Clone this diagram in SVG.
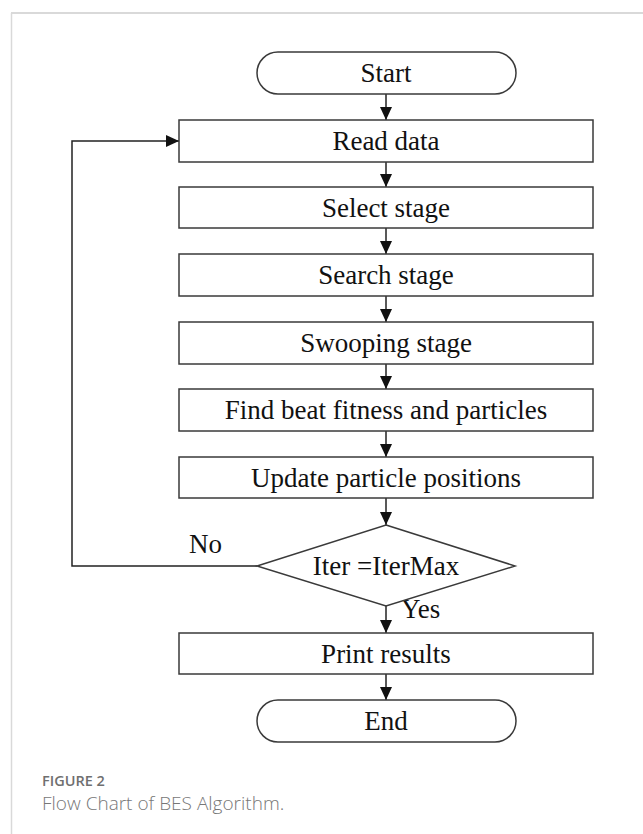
<svg xmlns="http://www.w3.org/2000/svg" width="643" height="834" viewBox="0 0 643 834">
<style>
.box{fill:#fff;stroke:#3a3a3a;stroke-width:1.5}
.lbl{font-family:"Liberation Serif","Times New Roman",serif;font-size:27px;fill:#111;text-anchor:middle}
.side{font-family:"Liberation Serif","Times New Roman",serif;font-size:27px;fill:#111}
.con{fill:none;stroke:#222;stroke-width:1.5}
.frame{stroke:#d9d9d9;fill:none}
.cap1{font-family:"Open Sans","Noto Sans",sans-serif;font-size:14.5px;font-weight:600;fill:#6f6f6f}
.cap2{font-family:"Open Sans","Noto Sans",sans-serif;font-size:19px;font-weight:300;fill:#777}
</style>
<defs>
<marker id="ah" markerUnits="userSpaceOnUse" markerWidth="14" markerHeight="14" viewBox="0 0 14 14" refX="13" refY="7" orient="auto">
<path d="M0,1 L13,7 L0,13 Z" fill="#111"/>
</marker>
</defs>
<rect width="643" height="834" fill="#fff"/>
<line class="frame" x1="11" y1="13" x2="643" y2="13" stroke-width="2"/>
<line class="frame" x1="11.5" y1="13" x2="11.5" y2="834" stroke-width="1.5"/>

<g id="connectors">
<line class="con" x1="386" y1="94" x2="386" y2="120" marker-end="url(#ah)"/>
<line class="con" x1="386" y1="162" x2="386" y2="187" marker-end="url(#ah)"/>
<line class="con" x1="386" y1="228" x2="386" y2="254" marker-end="url(#ah)"/>
<line class="con" x1="386" y1="296" x2="386" y2="322" marker-end="url(#ah)"/>
<line class="con" x1="386" y1="364" x2="386" y2="389" marker-end="url(#ah)"/>
<line class="con" x1="386" y1="431" x2="386" y2="457" marker-end="url(#ah)"/>
<line class="con" x1="386" y1="498" x2="386" y2="525" marker-end="url(#ah)"/>
<line class="con" x1="386" y1="606" x2="386" y2="633" marker-end="url(#ah)"/>
<line class="con" x1="386" y1="674" x2="386" y2="700" marker-end="url(#ah)"/>
<polyline class="con" points="257,566 72,566 72,141 179,141" marker-end="url(#ah)"/>
<text class="side" x="189" y="553">No</text>
<text class="side" x="401" y="618">Yes</text>
</g>

<g id="start">
<rect class="box" x="257" y="52" width="259" height="42" rx="21"/>
<text class="lbl" x="386" y="82">Start</text>
</g>
<g id="read">
<rect class="box" x="179" y="120" width="414" height="42"/>
<text class="lbl" x="386" y="150">Read data</text>
</g>
<g id="select">
<rect class="box" x="179" y="187" width="414" height="41"/>
<text class="lbl" x="386" y="216.5">Select stage</text>
</g>
<g id="search">
<rect class="box" x="179" y="254" width="414" height="42"/>
<text class="lbl" x="386" y="284">Search stage</text>
</g>
<g id="swooping">
<rect class="box" x="179" y="322" width="414" height="42"/>
<text class="lbl" x="386" y="352">Swooping stage</text>
</g>
<g id="find">
<rect class="box" x="179" y="389" width="414" height="42"/>
<text class="lbl" x="386" y="419">Find beat fitness and particles</text>
</g>
<g id="update">
<rect class="box" x="179" y="457" width="414" height="41"/>
<text class="lbl" x="386" y="486.5">Update particle positions</text>
</g>
<g id="decision">
<polygon class="box" points="386,525 515,566 386,606 257,566"/>
<text class="lbl" x="386" y="575">Iter =IterMax</text>
</g>
<g id="print">
<rect class="box" x="179" y="633" width="414" height="41"/>
<text class="lbl" x="386" y="662.5">Print results</text>
</g>
<g id="end">
<rect class="box" x="257" y="700" width="259" height="42" rx="21"/>
<text class="lbl" x="386" y="730">End</text>
</g>

<g id="caption">
<text class="cap1" x="42" y="786">FIGURE 2</text>
<text class="cap2" x="42" y="810">Flow Chart of BES Algorithm.</text>
</g>
</svg>
